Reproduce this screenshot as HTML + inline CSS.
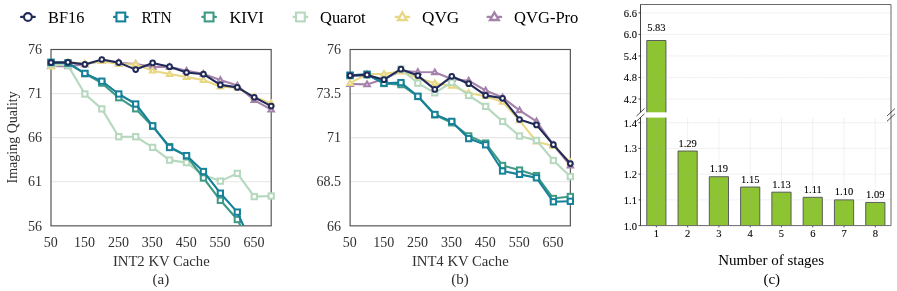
<!DOCTYPE html>
<html><head><meta charset="utf-8"><title>chart</title>
<style>html,body{margin:0;padding:0;background:#fff;}body{width:897px;height:291px;overflow:hidden;font-family:"Liberation Serif",serif;}svg{display:block;will-change:transform}</style>
</head><body>
<svg width="897" height="291" viewBox="0 0 897 291" font-family="Liberation Serif, serif">
<rect width="897" height="291" fill="#fff"/>
<line x1="21.2" x2="34.6" y1="16.9" y2="16.9" stroke="#212a58" stroke-width="2.4" stroke-linecap="round"/>
<circle cx="27.90" cy="17.00" r="3.90" fill="#fff" stroke="#212a58" stroke-width="2.1"/>
<text x="48.1" y="22.9" font-size="16.6" text-anchor="start" fill="#000" textLength="36.2" lengthAdjust="spacingAndGlyphs">BF16</text>
<line x1="114.14999999999999" x2="127.55" y1="16.9" y2="16.9" stroke="#17819a" stroke-width="2.4" stroke-linecap="round"/>
<rect x="116.45" y="12.60" width="8.80" height="8.80" fill="#fff" stroke="#17819a" stroke-width="2.1"/>
<text x="141.5" y="22.9" font-size="16.6" text-anchor="start" fill="#000" textLength="30.2" lengthAdjust="spacingAndGlyphs">RTN</text>
<line x1="202.4" x2="215.79999999999998" y1="16.9" y2="16.9" stroke="#3f9a85" stroke-width="2.4" stroke-linecap="round"/>
<rect x="204.70" y="12.60" width="8.80" height="8.80" fill="#fff" stroke="#3f9a85" stroke-width="2.1"/>
<text x="229.4" y="22.9" font-size="16.6" text-anchor="start" fill="#000" textLength="34.4" lengthAdjust="spacingAndGlyphs">KIVI</text>
<line x1="293.7" x2="307.09999999999997" y1="16.9" y2="16.9" stroke="#b5d8be" stroke-width="2.4" stroke-linecap="round"/>
<rect x="296.00" y="12.60" width="8.80" height="8.80" fill="#fff" stroke="#b5d8be" stroke-width="2.1"/>
<text x="320.0" y="22.9" font-size="16.6" text-anchor="start" fill="#000" textLength="45.7" lengthAdjust="spacingAndGlyphs">Quarot</text>
<line x1="395.7" x2="409.09999999999997" y1="16.9" y2="16.9" stroke="#e8d785" stroke-width="2.4" stroke-linecap="round"/>
<path d="M402.40 12.50L406.73 20.00L398.07 20.00Z" fill="#fff" stroke="#e8d785" stroke-width="2.4" stroke-linejoin="miter"/>
<text x="422.0" y="22.9" font-size="16.6" text-anchor="start" fill="#000" textLength="37.2" lengthAdjust="spacingAndGlyphs">QVG</text>
<line x1="487.7" x2="501.09999999999997" y1="16.9" y2="16.9" stroke="#a582ab" stroke-width="2.4" stroke-linecap="round"/>
<path d="M494.40 12.50L498.73 20.00L490.07 20.00Z" fill="#fff" stroke="#a582ab" stroke-width="2.4" stroke-linejoin="miter"/>
<text x="514.0" y="22.9" font-size="16.6" text-anchor="start" fill="#000" textLength="64.4" lengthAdjust="spacingAndGlyphs">QVG-Pro</text>
<clipPath id="ca"><rect x="45.0" y="49.5" width="232.2" height="176.35"/></clipPath>
<line x1="51.0" x2="271.2" y1="93.59" y2="93.59" stroke="#e6e6e6" stroke-width="1.2"/>
<line x1="51.0" x2="271.2" y1="137.68" y2="137.68" stroke="#e6e6e6" stroke-width="1.2"/>
<line x1="51.0" x2="271.2" y1="181.76" y2="181.76" stroke="#e6e6e6" stroke-width="1.2"/>
<rect x="51.0" y="49.5" width="220.2" height="176.35" fill="none" stroke="#505050" stroke-width="1.15"/>
<g clip-path="url(#ca)">
<polyline points="51.00,66.00 67.94,66.40 84.88,64.30 101.82,61.00 118.75,62.70 135.69,64.00 152.63,66.90 169.57,66.80 186.51,70.80 203.45,73.90 220.38,80.00 237.32,85.60 254.26,100.10 271.20,109.60" fill="none" stroke="#a582ab" stroke-width="2.1" stroke-linejoin="round" stroke-linecap="round"/>
<path d="M51.00 63.20L53.68 67.85L48.32 67.85Z" fill="#fff" stroke="#a582ab" stroke-width="2.1" stroke-linejoin="miter"/>
<path d="M67.94 63.60L70.62 68.25L65.25 68.25Z" fill="#fff" stroke="#a582ab" stroke-width="2.1" stroke-linejoin="miter"/>
<path d="M84.88 61.50L87.56 66.15L82.19 66.15Z" fill="#fff" stroke="#a582ab" stroke-width="2.1" stroke-linejoin="miter"/>
<path d="M101.82 58.20L104.50 62.85L99.13 62.85Z" fill="#fff" stroke="#a582ab" stroke-width="2.1" stroke-linejoin="miter"/>
<path d="M118.75 59.90L121.44 64.55L116.07 64.55Z" fill="#fff" stroke="#a582ab" stroke-width="2.1" stroke-linejoin="miter"/>
<path d="M135.69 61.20L138.38 65.85L133.01 65.85Z" fill="#fff" stroke="#a582ab" stroke-width="2.1" stroke-linejoin="miter"/>
<path d="M152.63 64.10L155.32 68.75L149.95 68.75Z" fill="#fff" stroke="#a582ab" stroke-width="2.1" stroke-linejoin="miter"/>
<path d="M169.57 64.00L172.25 68.65L166.88 68.65Z" fill="#fff" stroke="#a582ab" stroke-width="2.1" stroke-linejoin="miter"/>
<path d="M186.51 68.00L189.19 72.65L183.82 72.65Z" fill="#fff" stroke="#a582ab" stroke-width="2.1" stroke-linejoin="miter"/>
<path d="M203.45 71.10L206.13 75.75L200.76 75.75Z" fill="#fff" stroke="#a582ab" stroke-width="2.1" stroke-linejoin="miter"/>
<path d="M220.38 77.20L223.07 81.85L217.70 81.85Z" fill="#fff" stroke="#a582ab" stroke-width="2.1" stroke-linejoin="miter"/>
<path d="M237.32 82.80L240.01 87.45L234.64 87.45Z" fill="#fff" stroke="#a582ab" stroke-width="2.1" stroke-linejoin="miter"/>
<path d="M254.26 97.30L256.95 101.95L251.58 101.95Z" fill="#fff" stroke="#a582ab" stroke-width="2.1" stroke-linejoin="miter"/>
<path d="M271.20 106.80L273.88 111.45L268.52 111.45Z" fill="#fff" stroke="#a582ab" stroke-width="2.1" stroke-linejoin="miter"/>
<polyline points="51.00,66.70 67.94,62.20 84.88,63.60 101.82,61.20 118.75,64.00 135.69,64.20 152.63,70.70 169.57,74.00 186.51,77.00 203.45,80.10 220.38,86.70 237.32,87.80 254.26,97.00 271.20,103.40" fill="none" stroke="#e8d785" stroke-width="2.1" stroke-linejoin="round" stroke-linecap="round"/>
<path d="M51.00 63.90L53.68 68.55L48.32 68.55Z" fill="#fff" stroke="#e8d785" stroke-width="2.1" stroke-linejoin="miter"/>
<path d="M67.94 59.40L70.62 64.05L65.25 64.05Z" fill="#fff" stroke="#e8d785" stroke-width="2.1" stroke-linejoin="miter"/>
<path d="M84.88 60.80L87.56 65.45L82.19 65.45Z" fill="#fff" stroke="#e8d785" stroke-width="2.1" stroke-linejoin="miter"/>
<path d="M101.82 58.40L104.50 63.05L99.13 63.05Z" fill="#fff" stroke="#e8d785" stroke-width="2.1" stroke-linejoin="miter"/>
<path d="M118.75 61.20L121.44 65.85L116.07 65.85Z" fill="#fff" stroke="#e8d785" stroke-width="2.1" stroke-linejoin="miter"/>
<path d="M135.69 61.40L138.38 66.05L133.01 66.05Z" fill="#fff" stroke="#e8d785" stroke-width="2.1" stroke-linejoin="miter"/>
<path d="M152.63 67.90L155.32 72.55L149.95 72.55Z" fill="#fff" stroke="#e8d785" stroke-width="2.1" stroke-linejoin="miter"/>
<path d="M169.57 71.20L172.25 75.85L166.88 75.85Z" fill="#fff" stroke="#e8d785" stroke-width="2.1" stroke-linejoin="miter"/>
<path d="M186.51 74.20L189.19 78.85L183.82 78.85Z" fill="#fff" stroke="#e8d785" stroke-width="2.1" stroke-linejoin="miter"/>
<path d="M203.45 77.30L206.13 81.95L200.76 81.95Z" fill="#fff" stroke="#e8d785" stroke-width="2.1" stroke-linejoin="miter"/>
<path d="M220.38 83.90L223.07 88.55L217.70 88.55Z" fill="#fff" stroke="#e8d785" stroke-width="2.1" stroke-linejoin="miter"/>
<path d="M237.32 85.00L240.01 89.65L234.64 89.65Z" fill="#fff" stroke="#e8d785" stroke-width="2.1" stroke-linejoin="miter"/>
<path d="M254.26 94.20L256.95 98.85L251.58 98.85Z" fill="#fff" stroke="#e8d785" stroke-width="2.1" stroke-linejoin="miter"/>
<path d="M271.20 100.60L273.88 105.25L268.52 105.25Z" fill="#fff" stroke="#e8d785" stroke-width="2.1" stroke-linejoin="miter"/>
<polyline points="51.00,64.00 67.94,65.40 84.88,94.00 101.82,108.90 118.75,136.70 135.69,136.70 152.63,147.40 169.57,160.10 186.51,162.60 203.45,175.00 220.38,181.10 237.32,173.40 254.26,196.60 271.20,196.00" fill="none" stroke="#b5d8be" stroke-width="2.1" stroke-linejoin="round" stroke-linecap="round"/>
<rect x="48.35" y="61.35" width="5.30" height="5.30" fill="#fff" stroke="#b5d8be" stroke-width="2.0"/>
<rect x="65.29" y="62.75" width="5.30" height="5.30" fill="#fff" stroke="#b5d8be" stroke-width="2.0"/>
<rect x="82.23" y="91.35" width="5.30" height="5.30" fill="#fff" stroke="#b5d8be" stroke-width="2.0"/>
<rect x="99.17" y="106.25" width="5.30" height="5.30" fill="#fff" stroke="#b5d8be" stroke-width="2.0"/>
<rect x="116.10" y="134.05" width="5.30" height="5.30" fill="#fff" stroke="#b5d8be" stroke-width="2.0"/>
<rect x="133.04" y="134.05" width="5.30" height="5.30" fill="#fff" stroke="#b5d8be" stroke-width="2.0"/>
<rect x="149.98" y="144.75" width="5.30" height="5.30" fill="#fff" stroke="#b5d8be" stroke-width="2.0"/>
<rect x="166.92" y="157.45" width="5.30" height="5.30" fill="#fff" stroke="#b5d8be" stroke-width="2.0"/>
<rect x="183.86" y="159.95" width="5.30" height="5.30" fill="#fff" stroke="#b5d8be" stroke-width="2.0"/>
<rect x="200.80" y="172.35" width="5.30" height="5.30" fill="#fff" stroke="#b5d8be" stroke-width="2.0"/>
<rect x="217.73" y="178.45" width="5.30" height="5.30" fill="#fff" stroke="#b5d8be" stroke-width="2.0"/>
<rect x="234.67" y="170.75" width="5.30" height="5.30" fill="#fff" stroke="#b5d8be" stroke-width="2.0"/>
<rect x="251.61" y="193.95" width="5.30" height="5.30" fill="#fff" stroke="#b5d8be" stroke-width="2.0"/>
<rect x="268.55" y="193.35" width="5.30" height="5.30" fill="#fff" stroke="#b5d8be" stroke-width="2.0"/>
<polyline points="51.00,62.50 67.94,63.30 84.88,73.70 101.82,83.10 118.75,97.70 135.69,108.80 152.63,126.40 169.57,146.60 186.51,156.00 203.45,178.00 220.38,200.30 237.32,219.50 254.26,253.00 271.20,290.00" fill="none" stroke="#3f9a85" stroke-width="2.1" stroke-linejoin="round" stroke-linecap="round"/>
<rect x="48.35" y="59.85" width="5.30" height="5.30" fill="#fff" stroke="#3f9a85" stroke-width="2.0"/>
<rect x="65.29" y="60.65" width="5.30" height="5.30" fill="#fff" stroke="#3f9a85" stroke-width="2.0"/>
<rect x="82.23" y="71.05" width="5.30" height="5.30" fill="#fff" stroke="#3f9a85" stroke-width="2.0"/>
<rect x="99.17" y="80.45" width="5.30" height="5.30" fill="#fff" stroke="#3f9a85" stroke-width="2.0"/>
<rect x="116.10" y="95.05" width="5.30" height="5.30" fill="#fff" stroke="#3f9a85" stroke-width="2.0"/>
<rect x="133.04" y="106.15" width="5.30" height="5.30" fill="#fff" stroke="#3f9a85" stroke-width="2.0"/>
<rect x="149.98" y="123.75" width="5.30" height="5.30" fill="#fff" stroke="#3f9a85" stroke-width="2.0"/>
<rect x="166.92" y="143.95" width="5.30" height="5.30" fill="#fff" stroke="#3f9a85" stroke-width="2.0"/>
<rect x="183.86" y="153.35" width="5.30" height="5.30" fill="#fff" stroke="#3f9a85" stroke-width="2.0"/>
<rect x="200.80" y="175.35" width="5.30" height="5.30" fill="#fff" stroke="#3f9a85" stroke-width="2.0"/>
<rect x="217.73" y="197.65" width="5.30" height="5.30" fill="#fff" stroke="#3f9a85" stroke-width="2.0"/>
<rect x="234.67" y="216.85" width="5.30" height="5.30" fill="#fff" stroke="#3f9a85" stroke-width="2.0"/>
<rect x="251.61" y="250.35" width="5.30" height="5.30" fill="#fff" stroke="#3f9a85" stroke-width="2.0"/>
<rect x="268.55" y="287.35" width="5.30" height="5.30" fill="#fff" stroke="#3f9a85" stroke-width="2.0"/>
<polyline points="51.00,62.30 67.94,62.90 84.88,73.40 101.82,81.20 118.75,94.00 135.69,104.00 152.63,125.80 169.57,147.50 186.51,155.60 203.45,171.50 220.38,193.20 237.32,212.10 254.26,249.70 271.20,285.00" fill="none" stroke="#17819a" stroke-width="2.1" stroke-linejoin="round" stroke-linecap="round"/>
<rect x="48.35" y="59.65" width="5.30" height="5.30" fill="#fff" stroke="#17819a" stroke-width="2.0"/>
<rect x="65.29" y="60.25" width="5.30" height="5.30" fill="#fff" stroke="#17819a" stroke-width="2.0"/>
<rect x="82.23" y="70.75" width="5.30" height="5.30" fill="#fff" stroke="#17819a" stroke-width="2.0"/>
<rect x="99.17" y="78.55" width="5.30" height="5.30" fill="#fff" stroke="#17819a" stroke-width="2.0"/>
<rect x="116.10" y="91.35" width="5.30" height="5.30" fill="#fff" stroke="#17819a" stroke-width="2.0"/>
<rect x="133.04" y="101.35" width="5.30" height="5.30" fill="#fff" stroke="#17819a" stroke-width="2.0"/>
<rect x="149.98" y="123.15" width="5.30" height="5.30" fill="#fff" stroke="#17819a" stroke-width="2.0"/>
<rect x="166.92" y="144.85" width="5.30" height="5.30" fill="#fff" stroke="#17819a" stroke-width="2.0"/>
<rect x="183.86" y="152.95" width="5.30" height="5.30" fill="#fff" stroke="#17819a" stroke-width="2.0"/>
<rect x="200.80" y="168.85" width="5.30" height="5.30" fill="#fff" stroke="#17819a" stroke-width="2.0"/>
<rect x="217.73" y="190.55" width="5.30" height="5.30" fill="#fff" stroke="#17819a" stroke-width="2.0"/>
<rect x="234.67" y="209.45" width="5.30" height="5.30" fill="#fff" stroke="#17819a" stroke-width="2.0"/>
<rect x="251.61" y="247.05" width="5.30" height="5.30" fill="#fff" stroke="#17819a" stroke-width="2.0"/>
<rect x="268.55" y="282.35" width="5.30" height="5.30" fill="#fff" stroke="#17819a" stroke-width="2.0"/>
<polyline points="51.00,62.60 67.94,62.30 84.88,64.40 101.82,59.50 118.75,62.60 135.69,69.60 152.63,62.90 169.57,66.70 186.51,72.50 203.45,74.20 220.38,84.90 237.32,87.40 254.26,97.30 271.20,106.10" fill="none" stroke="#212a58" stroke-width="2.1" stroke-linejoin="round" stroke-linecap="round"/>
<circle cx="51.00" cy="62.60" r="2.35" fill="#fff" stroke="#212a58" stroke-width="2.0"/>
<circle cx="67.94" cy="62.30" r="2.35" fill="#fff" stroke="#212a58" stroke-width="2.0"/>
<circle cx="84.88" cy="64.40" r="2.35" fill="#fff" stroke="#212a58" stroke-width="2.0"/>
<circle cx="101.82" cy="59.50" r="2.35" fill="#fff" stroke="#212a58" stroke-width="2.0"/>
<circle cx="118.75" cy="62.60" r="2.35" fill="#fff" stroke="#212a58" stroke-width="2.0"/>
<circle cx="135.69" cy="69.60" r="2.35" fill="#fff" stroke="#212a58" stroke-width="2.0"/>
<circle cx="152.63" cy="62.90" r="2.35" fill="#fff" stroke="#212a58" stroke-width="2.0"/>
<circle cx="169.57" cy="66.70" r="2.35" fill="#fff" stroke="#212a58" stroke-width="2.0"/>
<circle cx="186.51" cy="72.50" r="2.35" fill="#fff" stroke="#212a58" stroke-width="2.0"/>
<circle cx="203.45" cy="74.20" r="2.35" fill="#fff" stroke="#212a58" stroke-width="2.0"/>
<circle cx="220.38" cy="84.90" r="2.35" fill="#fff" stroke="#212a58" stroke-width="2.0"/>
<circle cx="237.32" cy="87.40" r="2.35" fill="#fff" stroke="#212a58" stroke-width="2.0"/>
<circle cx="254.26" cy="97.30" r="2.35" fill="#fff" stroke="#212a58" stroke-width="2.0"/>
<circle cx="271.20" cy="106.10" r="2.35" fill="#fff" stroke="#212a58" stroke-width="2.0"/>
</g>
<clipPath id="cb"><rect x="344.1" y="49.5" width="232.25" height="176.35"/></clipPath>
<line x1="350.1" x2="570.35" y1="93.59" y2="93.59" stroke="#e6e6e6" stroke-width="1.2"/>
<line x1="350.1" x2="570.35" y1="137.68" y2="137.68" stroke="#e6e6e6" stroke-width="1.2"/>
<line x1="350.1" x2="570.35" y1="181.76" y2="181.76" stroke="#e6e6e6" stroke-width="1.2"/>
<rect x="350.1" y="49.5" width="220.25" height="176.35" fill="none" stroke="#505050" stroke-width="1.15"/>
<g clip-path="url(#cb)">
<polyline points="350.10,84.00 367.04,84.40 383.98,79.00 400.93,70.80 417.87,72.00 434.81,72.30 451.75,79.00 468.70,80.70 485.64,90.50 502.58,97.50 519.52,110.30 536.47,121.30 553.41,145.00 570.35,165.70" fill="none" stroke="#a582ab" stroke-width="2.1" stroke-linejoin="round" stroke-linecap="round"/>
<path d="M350.10 81.20L352.78 85.85L347.42 85.85Z" fill="#fff" stroke="#a582ab" stroke-width="2.1" stroke-linejoin="miter"/>
<path d="M367.04 81.60L369.73 86.25L364.36 86.25Z" fill="#fff" stroke="#a582ab" stroke-width="2.1" stroke-linejoin="miter"/>
<path d="M383.98 76.20L386.67 80.85L381.30 80.85Z" fill="#fff" stroke="#a582ab" stroke-width="2.1" stroke-linejoin="miter"/>
<path d="M400.93 68.00L403.61 72.65L398.24 72.65Z" fill="#fff" stroke="#a582ab" stroke-width="2.1" stroke-linejoin="miter"/>
<path d="M417.87 69.20L420.55 73.85L415.18 73.85Z" fill="#fff" stroke="#a582ab" stroke-width="2.1" stroke-linejoin="miter"/>
<path d="M434.81 69.50L437.50 74.15L432.13 74.15Z" fill="#fff" stroke="#a582ab" stroke-width="2.1" stroke-linejoin="miter"/>
<path d="M451.75 76.20L454.44 80.85L449.07 80.85Z" fill="#fff" stroke="#a582ab" stroke-width="2.1" stroke-linejoin="miter"/>
<path d="M468.70 77.90L471.38 82.55L466.01 82.55Z" fill="#fff" stroke="#a582ab" stroke-width="2.1" stroke-linejoin="miter"/>
<path d="M485.64 87.70L488.32 92.35L482.95 92.35Z" fill="#fff" stroke="#a582ab" stroke-width="2.1" stroke-linejoin="miter"/>
<path d="M502.58 94.70L505.27 99.35L499.90 99.35Z" fill="#fff" stroke="#a582ab" stroke-width="2.1" stroke-linejoin="miter"/>
<path d="M519.52 107.50L522.21 112.15L516.84 112.15Z" fill="#fff" stroke="#a582ab" stroke-width="2.1" stroke-linejoin="miter"/>
<path d="M536.47 118.50L539.15 123.15L533.78 123.15Z" fill="#fff" stroke="#a582ab" stroke-width="2.1" stroke-linejoin="miter"/>
<path d="M553.41 142.20L556.09 146.85L550.72 146.85Z" fill="#fff" stroke="#a582ab" stroke-width="2.1" stroke-linejoin="miter"/>
<path d="M570.35 162.90L573.03 167.55L567.67 167.55Z" fill="#fff" stroke="#a582ab" stroke-width="2.1" stroke-linejoin="miter"/>
<polyline points="350.10,83.20 367.04,74.00 383.98,73.90 400.93,71.50 417.87,78.00 434.81,83.20 451.75,85.90 468.70,93.00 485.64,96.20 502.58,101.90 519.52,120.30 536.47,141.70 553.41,146.00 570.35,162.30" fill="none" stroke="#e8d785" stroke-width="2.1" stroke-linejoin="round" stroke-linecap="round"/>
<path d="M350.10 80.40L352.78 85.05L347.42 85.05Z" fill="#fff" stroke="#e8d785" stroke-width="2.1" stroke-linejoin="miter"/>
<path d="M367.04 71.20L369.73 75.85L364.36 75.85Z" fill="#fff" stroke="#e8d785" stroke-width="2.1" stroke-linejoin="miter"/>
<path d="M383.98 71.10L386.67 75.75L381.30 75.75Z" fill="#fff" stroke="#e8d785" stroke-width="2.1" stroke-linejoin="miter"/>
<path d="M400.93 68.70L403.61 73.35L398.24 73.35Z" fill="#fff" stroke="#e8d785" stroke-width="2.1" stroke-linejoin="miter"/>
<path d="M417.87 75.20L420.55 79.85L415.18 79.85Z" fill="#fff" stroke="#e8d785" stroke-width="2.1" stroke-linejoin="miter"/>
<path d="M434.81 80.40L437.50 85.05L432.13 85.05Z" fill="#fff" stroke="#e8d785" stroke-width="2.1" stroke-linejoin="miter"/>
<path d="M451.75 83.10L454.44 87.75L449.07 87.75Z" fill="#fff" stroke="#e8d785" stroke-width="2.1" stroke-linejoin="miter"/>
<path d="M468.70 90.20L471.38 94.85L466.01 94.85Z" fill="#fff" stroke="#e8d785" stroke-width="2.1" stroke-linejoin="miter"/>
<path d="M485.64 93.40L488.32 98.05L482.95 98.05Z" fill="#fff" stroke="#e8d785" stroke-width="2.1" stroke-linejoin="miter"/>
<path d="M502.58 99.10L505.27 103.75L499.90 103.75Z" fill="#fff" stroke="#e8d785" stroke-width="2.1" stroke-linejoin="miter"/>
<path d="M519.52 117.50L522.21 122.15L516.84 122.15Z" fill="#fff" stroke="#e8d785" stroke-width="2.1" stroke-linejoin="miter"/>
<path d="M536.47 138.90L539.15 143.55L533.78 143.55Z" fill="#fff" stroke="#e8d785" stroke-width="2.1" stroke-linejoin="miter"/>
<path d="M553.41 143.20L556.09 147.85L550.72 147.85Z" fill="#fff" stroke="#e8d785" stroke-width="2.1" stroke-linejoin="miter"/>
<path d="M570.35 159.50L573.03 164.15L567.67 164.15Z" fill="#fff" stroke="#e8d785" stroke-width="2.1" stroke-linejoin="miter"/>
<polyline points="350.10,76.00 367.04,75.00 383.98,80.00 400.93,69.00 417.87,83.20 434.81,92.80 451.75,82.40 468.70,95.50 485.64,106.40 502.58,121.50 519.52,136.00 536.47,140.40 553.41,160.50 570.35,176.60" fill="none" stroke="#b5d8be" stroke-width="2.1" stroke-linejoin="round" stroke-linecap="round"/>
<rect x="347.45" y="73.35" width="5.30" height="5.30" fill="#fff" stroke="#b5d8be" stroke-width="2.0"/>
<rect x="364.39" y="72.35" width="5.30" height="5.30" fill="#fff" stroke="#b5d8be" stroke-width="2.0"/>
<rect x="381.33" y="77.35" width="5.30" height="5.30" fill="#fff" stroke="#b5d8be" stroke-width="2.0"/>
<rect x="398.28" y="66.35" width="5.30" height="5.30" fill="#fff" stroke="#b5d8be" stroke-width="2.0"/>
<rect x="415.22" y="80.55" width="5.30" height="5.30" fill="#fff" stroke="#b5d8be" stroke-width="2.0"/>
<rect x="432.16" y="90.15" width="5.30" height="5.30" fill="#fff" stroke="#b5d8be" stroke-width="2.0"/>
<rect x="449.10" y="79.75" width="5.30" height="5.30" fill="#fff" stroke="#b5d8be" stroke-width="2.0"/>
<rect x="466.05" y="92.85" width="5.30" height="5.30" fill="#fff" stroke="#b5d8be" stroke-width="2.0"/>
<rect x="482.99" y="103.75" width="5.30" height="5.30" fill="#fff" stroke="#b5d8be" stroke-width="2.0"/>
<rect x="499.93" y="118.85" width="5.30" height="5.30" fill="#fff" stroke="#b5d8be" stroke-width="2.0"/>
<rect x="516.87" y="133.35" width="5.30" height="5.30" fill="#fff" stroke="#b5d8be" stroke-width="2.0"/>
<rect x="533.82" y="137.75" width="5.30" height="5.30" fill="#fff" stroke="#b5d8be" stroke-width="2.0"/>
<rect x="550.76" y="157.85" width="5.30" height="5.30" fill="#fff" stroke="#b5d8be" stroke-width="2.0"/>
<rect x="567.70" y="173.95" width="5.30" height="5.30" fill="#fff" stroke="#b5d8be" stroke-width="2.0"/>
<polyline points="350.10,75.40 367.04,74.60 383.98,83.50 400.93,84.60 417.87,96.50 434.81,114.80 451.75,122.80 468.70,135.90 485.64,143.10 502.58,165.50 519.52,170.10 536.47,175.60 553.41,198.50 570.35,196.50" fill="none" stroke="#3f9a85" stroke-width="2.1" stroke-linejoin="round" stroke-linecap="round"/>
<rect x="347.45" y="72.75" width="5.30" height="5.30" fill="#fff" stroke="#3f9a85" stroke-width="2.0"/>
<rect x="364.39" y="71.95" width="5.30" height="5.30" fill="#fff" stroke="#3f9a85" stroke-width="2.0"/>
<rect x="381.33" y="80.85" width="5.30" height="5.30" fill="#fff" stroke="#3f9a85" stroke-width="2.0"/>
<rect x="398.28" y="81.95" width="5.30" height="5.30" fill="#fff" stroke="#3f9a85" stroke-width="2.0"/>
<rect x="415.22" y="93.85" width="5.30" height="5.30" fill="#fff" stroke="#3f9a85" stroke-width="2.0"/>
<rect x="432.16" y="112.15" width="5.30" height="5.30" fill="#fff" stroke="#3f9a85" stroke-width="2.0"/>
<rect x="449.10" y="120.15" width="5.30" height="5.30" fill="#fff" stroke="#3f9a85" stroke-width="2.0"/>
<rect x="466.05" y="133.25" width="5.30" height="5.30" fill="#fff" stroke="#3f9a85" stroke-width="2.0"/>
<rect x="482.99" y="140.45" width="5.30" height="5.30" fill="#fff" stroke="#3f9a85" stroke-width="2.0"/>
<rect x="499.93" y="162.85" width="5.30" height="5.30" fill="#fff" stroke="#3f9a85" stroke-width="2.0"/>
<rect x="516.87" y="167.45" width="5.30" height="5.30" fill="#fff" stroke="#3f9a85" stroke-width="2.0"/>
<rect x="533.82" y="172.95" width="5.30" height="5.30" fill="#fff" stroke="#3f9a85" stroke-width="2.0"/>
<rect x="550.76" y="195.85" width="5.30" height="5.30" fill="#fff" stroke="#3f9a85" stroke-width="2.0"/>
<rect x="567.70" y="193.85" width="5.30" height="5.30" fill="#fff" stroke="#3f9a85" stroke-width="2.0"/>
<polyline points="350.10,75.20 367.04,74.20 383.98,83.20 400.93,82.60 417.87,96.30 434.81,114.50 451.75,121.40 468.70,138.60 485.64,144.80 502.58,171.00 519.52,174.40 536.47,177.80 553.41,201.80 570.35,201.30" fill="none" stroke="#17819a" stroke-width="2.1" stroke-linejoin="round" stroke-linecap="round"/>
<rect x="347.45" y="72.55" width="5.30" height="5.30" fill="#fff" stroke="#17819a" stroke-width="2.0"/>
<rect x="364.39" y="71.55" width="5.30" height="5.30" fill="#fff" stroke="#17819a" stroke-width="2.0"/>
<rect x="381.33" y="80.55" width="5.30" height="5.30" fill="#fff" stroke="#17819a" stroke-width="2.0"/>
<rect x="398.28" y="79.95" width="5.30" height="5.30" fill="#fff" stroke="#17819a" stroke-width="2.0"/>
<rect x="415.22" y="93.65" width="5.30" height="5.30" fill="#fff" stroke="#17819a" stroke-width="2.0"/>
<rect x="432.16" y="111.85" width="5.30" height="5.30" fill="#fff" stroke="#17819a" stroke-width="2.0"/>
<rect x="449.10" y="118.75" width="5.30" height="5.30" fill="#fff" stroke="#17819a" stroke-width="2.0"/>
<rect x="466.05" y="135.95" width="5.30" height="5.30" fill="#fff" stroke="#17819a" stroke-width="2.0"/>
<rect x="482.99" y="142.15" width="5.30" height="5.30" fill="#fff" stroke="#17819a" stroke-width="2.0"/>
<rect x="499.93" y="168.35" width="5.30" height="5.30" fill="#fff" stroke="#17819a" stroke-width="2.0"/>
<rect x="516.87" y="171.75" width="5.30" height="5.30" fill="#fff" stroke="#17819a" stroke-width="2.0"/>
<rect x="533.82" y="175.15" width="5.30" height="5.30" fill="#fff" stroke="#17819a" stroke-width="2.0"/>
<rect x="550.76" y="199.15" width="5.30" height="5.30" fill="#fff" stroke="#17819a" stroke-width="2.0"/>
<rect x="567.70" y="198.65" width="5.30" height="5.30" fill="#fff" stroke="#17819a" stroke-width="2.0"/>
<polyline points="350.10,75.60 367.04,74.90 383.98,79.70 400.93,69.20 417.87,75.60 434.81,89.40 451.75,76.30 468.70,83.70 485.64,95.40 502.58,98.30 519.52,119.50 536.47,124.90 553.41,144.70 570.35,163.60" fill="none" stroke="#212a58" stroke-width="2.1" stroke-linejoin="round" stroke-linecap="round"/>
<circle cx="350.10" cy="75.60" r="2.35" fill="#fff" stroke="#212a58" stroke-width="2.0"/>
<circle cx="367.04" cy="74.90" r="2.35" fill="#fff" stroke="#212a58" stroke-width="2.0"/>
<circle cx="383.98" cy="79.70" r="2.35" fill="#fff" stroke="#212a58" stroke-width="2.0"/>
<circle cx="400.93" cy="69.20" r="2.35" fill="#fff" stroke="#212a58" stroke-width="2.0"/>
<circle cx="417.87" cy="75.60" r="2.35" fill="#fff" stroke="#212a58" stroke-width="2.0"/>
<circle cx="434.81" cy="89.40" r="2.35" fill="#fff" stroke="#212a58" stroke-width="2.0"/>
<circle cx="451.75" cy="76.30" r="2.35" fill="#fff" stroke="#212a58" stroke-width="2.0"/>
<circle cx="468.70" cy="83.70" r="2.35" fill="#fff" stroke="#212a58" stroke-width="2.0"/>
<circle cx="485.64" cy="95.40" r="2.35" fill="#fff" stroke="#212a58" stroke-width="2.0"/>
<circle cx="502.58" cy="98.30" r="2.35" fill="#fff" stroke="#212a58" stroke-width="2.0"/>
<circle cx="519.52" cy="119.50" r="2.35" fill="#fff" stroke="#212a58" stroke-width="2.0"/>
<circle cx="536.47" cy="124.90" r="2.35" fill="#fff" stroke="#212a58" stroke-width="2.0"/>
<circle cx="553.41" cy="144.70" r="2.35" fill="#fff" stroke="#212a58" stroke-width="2.0"/>
<circle cx="570.35" cy="163.60" r="2.35" fill="#fff" stroke="#212a58" stroke-width="2.0"/>
</g>
<text x="42" y="54.2" font-size="14" text-anchor="end" fill="#303030" >76</text>
<text x="42" y="98.28750000000001" font-size="14" text-anchor="end" fill="#303030" >71</text>
<text x="42" y="142.375" font-size="14" text-anchor="end" fill="#303030" >66</text>
<text x="42" y="186.46249999999998" font-size="14" text-anchor="end" fill="#303030" >61</text>
<text x="42" y="230.54999999999998" font-size="14" text-anchor="end" fill="#303030" >56</text>
<text x="341" y="54.2" font-size="14" text-anchor="end" fill="#303030" >76</text>
<text x="341" y="98.28750000000001" font-size="14" text-anchor="end" fill="#303030" >73.5</text>
<text x="341" y="142.375" font-size="14" text-anchor="end" fill="#303030" >71</text>
<text x="341" y="186.46249999999998" font-size="14" text-anchor="end" fill="#303030" >68.5</text>
<text x="341" y="230.54999999999998" font-size="14" text-anchor="end" fill="#303030" >66</text>
<text x="50.7" y="246.7" font-size="14" text-anchor="middle" fill="#303030" >50</text>
<text x="84.58" y="246.7" font-size="14" text-anchor="middle" fill="#303030" >150</text>
<text x="118.45" y="246.7" font-size="14" text-anchor="middle" fill="#303030" >250</text>
<text x="152.33" y="246.7" font-size="14" text-anchor="middle" fill="#303030" >350</text>
<text x="186.21" y="246.7" font-size="14" text-anchor="middle" fill="#303030" >450</text>
<text x="220.08" y="246.7" font-size="14" text-anchor="middle" fill="#303030" >550</text>
<text x="253.96" y="246.7" font-size="14" text-anchor="middle" fill="#303030" >650</text>
<text x="349.8" y="246.7" font-size="14" text-anchor="middle" fill="#303030" >50</text>
<text x="383.68" y="246.7" font-size="14" text-anchor="middle" fill="#303030" >150</text>
<text x="417.57" y="246.7" font-size="14" text-anchor="middle" fill="#303030" >250</text>
<text x="451.45" y="246.7" font-size="14" text-anchor="middle" fill="#303030" >350</text>
<text x="485.34" y="246.7" font-size="14" text-anchor="middle" fill="#303030" >450</text>
<text x="519.22" y="246.7" font-size="14" text-anchor="middle" fill="#303030" >550</text>
<text x="553.11" y="246.7" font-size="14" text-anchor="middle" fill="#303030" >650</text>
<text x="161.3" y="265.9" font-size="14.7" text-anchor="middle" fill="#303030" >INT2 KV Cache</text>
<text x="460.3" y="265.9" font-size="14.7" text-anchor="middle" fill="#303030" >INT4 KV Cache</text>
<text x="160.9" y="283.7" font-size="15" text-anchor="middle" fill="#303030" >(a)</text>
<text x="460.0" y="283.7" font-size="15" text-anchor="middle" fill="#303030" >(b)</text>
<text transform="translate(16.7 137.4) rotate(-90)" font-size="14" text-anchor="middle" fill="#303030">Imaging Quality</text>
<rect x="646.75" y="40.50" width="19.2" height="71.80" fill="#8cc531"/>
<path d="M646.75 112.3V40.50H665.95V112.3" fill="none" stroke="#504e58" stroke-width="0.9"/>
<rect x="646.75" y="117.6" width="19.2" height="108.00" fill="#8cc531"/>
<path d="M646.75 117.6V225.6M665.95 117.6V225.6" fill="none" stroke="#504e58" stroke-width="0.9"/>
<text x="656.35" y="30.9" font-size="10.5" text-anchor="middle" fill="#000" stroke="#000" stroke-width="0.1">5.83</text>
<rect x="678.03" y="151.00" width="19.2" height="74.60" fill="#8cc531"/>
<path d="M678.03 225.6V151.00H697.23V225.6" fill="none" stroke="#504e58" stroke-width="0.9"/>
<text x="687.63" y="146.5" font-size="10.5" text-anchor="middle" fill="#000" stroke="#000" stroke-width="0.1">1.29</text>
<rect x="709.31" y="176.72" width="19.2" height="48.88" fill="#8cc531"/>
<path d="M709.31 225.6V176.72H728.51V225.6" fill="none" stroke="#504e58" stroke-width="0.9"/>
<text x="718.91" y="172.22" font-size="10.5" text-anchor="middle" fill="#000" stroke="#000" stroke-width="0.1">1.19</text>
<rect x="740.59" y="187.01" width="19.2" height="38.59" fill="#8cc531"/>
<path d="M740.59 225.6V187.01H759.79V225.6" fill="none" stroke="#504e58" stroke-width="0.9"/>
<text x="750.19" y="182.51" font-size="10.5" text-anchor="middle" fill="#000" stroke="#000" stroke-width="0.1">1.15</text>
<rect x="771.87" y="192.16" width="19.2" height="33.44" fill="#8cc531"/>
<path d="M771.87 225.6V192.16H791.07V225.6" fill="none" stroke="#504e58" stroke-width="0.9"/>
<text x="781.47" y="187.66" font-size="10.5" text-anchor="middle" fill="#000" stroke="#000" stroke-width="0.1">1.13</text>
<rect x="803.15" y="197.30" width="19.2" height="28.30" fill="#8cc531"/>
<path d="M803.15 225.6V197.30H822.35V225.6" fill="none" stroke="#504e58" stroke-width="0.9"/>
<text x="812.75" y="192.8" font-size="10.5" text-anchor="middle" fill="#000" stroke="#000" stroke-width="0.1">1.11</text>
<rect x="834.43" y="199.87" width="19.2" height="25.73" fill="#8cc531"/>
<path d="M834.43 225.6V199.87H853.63V225.6" fill="none" stroke="#504e58" stroke-width="0.9"/>
<text x="844.03" y="195.37" font-size="10.5" text-anchor="middle" fill="#000" stroke="#000" stroke-width="0.1">1.10</text>
<rect x="865.71" y="202.45" width="19.2" height="23.15" fill="#8cc531"/>
<path d="M865.71 225.6V202.45H884.91V225.6" fill="none" stroke="#504e58" stroke-width="0.9"/>
<text x="875.31" y="197.95" font-size="10.5" text-anchor="middle" fill="#000" stroke="#000" stroke-width="0.1">1.09</text>
<line x1="640.5" x2="891.0" y1="12.86" y2="12.86" stroke="#b0b0b0" stroke-opacity="0.36" stroke-width="0.8" stroke-dasharray="0.8 0.6"/>
<line x1="640.5" x2="891.0" y1="34.40" y2="34.40" stroke="#b0b0b0" stroke-opacity="0.36" stroke-width="0.8" stroke-dasharray="0.8 0.6"/>
<line x1="640.5" x2="891.0" y1="55.94" y2="55.94" stroke="#b0b0b0" stroke-opacity="0.36" stroke-width="0.8" stroke-dasharray="0.8 0.6"/>
<line x1="640.5" x2="891.0" y1="77.48" y2="77.48" stroke="#b0b0b0" stroke-opacity="0.36" stroke-width="0.8" stroke-dasharray="0.8 0.6"/>
<line x1="640.5" x2="891.0" y1="99.02" y2="99.02" stroke="#b0b0b0" stroke-opacity="0.36" stroke-width="0.8" stroke-dasharray="0.8 0.6"/>
<line x1="640.5" x2="891.0" y1="199.87" y2="199.87" stroke="#b0b0b0" stroke-opacity="0.36" stroke-width="0.8" stroke-dasharray="0.8 0.6"/>
<line x1="640.5" x2="891.0" y1="174.15" y2="174.15" stroke="#b0b0b0" stroke-opacity="0.36" stroke-width="0.8" stroke-dasharray="0.8 0.6"/>
<line x1="640.5" x2="891.0" y1="148.42" y2="148.42" stroke="#b0b0b0" stroke-opacity="0.36" stroke-width="0.8" stroke-dasharray="0.8 0.6"/>
<line x1="640.5" x2="891.0" y1="122.70" y2="122.70" stroke="#b0b0b0" stroke-opacity="0.36" stroke-width="0.8" stroke-dasharray="0.8 0.6"/>
<line x1="656.35" x2="656.35" y1="117.6" y2="225.6" stroke="#b0b0b0" stroke-opacity="0.36" stroke-width="0.8" stroke-dasharray="0.8 0.6"/>
<line x1="656.35" x2="656.35" y1="225.6" y2="227.4" stroke="#222" stroke-width="0.8"/>
<text x="656.35" y="237.3" font-size="10.5" text-anchor="middle" fill="#000" stroke="#000" stroke-width="0.1">1</text>
<line x1="687.63" x2="687.63" y1="117.6" y2="225.6" stroke="#b0b0b0" stroke-opacity="0.36" stroke-width="0.8" stroke-dasharray="0.8 0.6"/>
<line x1="687.63" x2="687.63" y1="225.6" y2="227.4" stroke="#222" stroke-width="0.8"/>
<text x="687.63" y="237.3" font-size="10.5" text-anchor="middle" fill="#000" stroke="#000" stroke-width="0.1">2</text>
<line x1="718.91" x2="718.91" y1="117.6" y2="225.6" stroke="#b0b0b0" stroke-opacity="0.36" stroke-width="0.8" stroke-dasharray="0.8 0.6"/>
<line x1="718.91" x2="718.91" y1="225.6" y2="227.4" stroke="#222" stroke-width="0.8"/>
<text x="718.91" y="237.3" font-size="10.5" text-anchor="middle" fill="#000" stroke="#000" stroke-width="0.1">3</text>
<line x1="750.19" x2="750.19" y1="117.6" y2="225.6" stroke="#b0b0b0" stroke-opacity="0.36" stroke-width="0.8" stroke-dasharray="0.8 0.6"/>
<line x1="750.19" x2="750.19" y1="225.6" y2="227.4" stroke="#222" stroke-width="0.8"/>
<text x="750.19" y="237.3" font-size="10.5" text-anchor="middle" fill="#000" stroke="#000" stroke-width="0.1">4</text>
<line x1="781.47" x2="781.47" y1="117.6" y2="225.6" stroke="#b0b0b0" stroke-opacity="0.36" stroke-width="0.8" stroke-dasharray="0.8 0.6"/>
<line x1="781.47" x2="781.47" y1="225.6" y2="227.4" stroke="#222" stroke-width="0.8"/>
<text x="781.47" y="237.3" font-size="10.5" text-anchor="middle" fill="#000" stroke="#000" stroke-width="0.1">5</text>
<line x1="812.75" x2="812.75" y1="117.6" y2="225.6" stroke="#b0b0b0" stroke-opacity="0.36" stroke-width="0.8" stroke-dasharray="0.8 0.6"/>
<line x1="812.75" x2="812.75" y1="225.6" y2="227.4" stroke="#222" stroke-width="0.8"/>
<text x="812.75" y="237.3" font-size="10.5" text-anchor="middle" fill="#000" stroke="#000" stroke-width="0.1">6</text>
<line x1="844.03" x2="844.03" y1="117.6" y2="225.6" stroke="#b0b0b0" stroke-opacity="0.36" stroke-width="0.8" stroke-dasharray="0.8 0.6"/>
<line x1="844.03" x2="844.03" y1="225.6" y2="227.4" stroke="#222" stroke-width="0.8"/>
<text x="844.03" y="237.3" font-size="10.5" text-anchor="middle" fill="#000" stroke="#000" stroke-width="0.1">7</text>
<line x1="875.31" x2="875.31" y1="117.6" y2="225.6" stroke="#b0b0b0" stroke-opacity="0.36" stroke-width="0.8" stroke-dasharray="0.8 0.6"/>
<line x1="875.31" x2="875.31" y1="225.6" y2="227.4" stroke="#222" stroke-width="0.8"/>
<text x="875.31" y="237.3" font-size="10.5" text-anchor="middle" fill="#000" stroke="#000" stroke-width="0.1">8</text>
<path d="M640.5 112.3V4.5H891.0V225.6H640.5V117.6" fill="none" stroke="#6a6a6a" stroke-width="1"/>
<path d="M640.5 112.3V4.5M640.5 117.6V225.6" fill="none" stroke="#444" stroke-width="1"/>
<line x1="638.5" x2="640.5" y1="12.86" y2="12.86" stroke="#222" stroke-width="0.8"/>
<text x="636.9" y="16.86" font-size="10.5" text-anchor="end" fill="#000" stroke="#000" stroke-width="0.1">6.6</text>
<line x1="638.5" x2="640.5" y1="34.40" y2="34.40" stroke="#222" stroke-width="0.8"/>
<text x="636.9" y="38.4" font-size="10.5" text-anchor="end" fill="#000" stroke="#000" stroke-width="0.1">6.0</text>
<line x1="638.5" x2="640.5" y1="55.94" y2="55.94" stroke="#222" stroke-width="0.8"/>
<text x="636.9" y="59.94" font-size="10.5" text-anchor="end" fill="#000" stroke="#000" stroke-width="0.1">5.4</text>
<line x1="638.5" x2="640.5" y1="77.48" y2="77.48" stroke="#222" stroke-width="0.8"/>
<text x="636.9" y="81.48" font-size="10.5" text-anchor="end" fill="#000" stroke="#000" stroke-width="0.1">4.8</text>
<line x1="638.5" x2="640.5" y1="99.02" y2="99.02" stroke="#222" stroke-width="0.8"/>
<text x="636.9" y="103.02" font-size="10.5" text-anchor="end" fill="#000" stroke="#000" stroke-width="0.1">4.2</text>
<line x1="638.5" x2="640.5" y1="225.60" y2="225.60" stroke="#222" stroke-width="0.8"/>
<text x="636.9" y="229.6" font-size="10.5" text-anchor="end" fill="#000" stroke="#000" stroke-width="0.1">1.0</text>
<line x1="638.5" x2="640.5" y1="199.87" y2="199.87" stroke="#222" stroke-width="0.8"/>
<text x="636.9" y="203.87" font-size="10.5" text-anchor="end" fill="#000" stroke="#000" stroke-width="0.1">1.1</text>
<line x1="638.5" x2="640.5" y1="174.15" y2="174.15" stroke="#222" stroke-width="0.8"/>
<text x="636.9" y="178.15" font-size="10.5" text-anchor="end" fill="#000" stroke="#000" stroke-width="0.1">1.2</text>
<line x1="638.5" x2="640.5" y1="148.42" y2="148.42" stroke="#222" stroke-width="0.8"/>
<text x="636.9" y="152.42" font-size="10.5" text-anchor="end" fill="#000" stroke="#000" stroke-width="0.1">1.3</text>
<line x1="638.5" x2="640.5" y1="122.70" y2="122.70" stroke="#222" stroke-width="0.8"/>
<text x="636.9" y="126.7" font-size="10.5" text-anchor="end" fill="#000" stroke="#000" stroke-width="0.1">1.4</text>
<line x1="636.5" x2="644.5" y1="116.0" y2="108.5" stroke="#222" stroke-width="0.8"/>
<line x1="636.5" x2="644.5" y1="121.25" y2="113.75" stroke="#222" stroke-width="0.8"/>
<line x1="887.0" x2="895.0" y1="116.0" y2="108.5" stroke="#222" stroke-width="0.8"/>
<line x1="887.0" x2="895.0" y1="121.25" y2="113.75" stroke="#222" stroke-width="0.8"/>
<text x="771.2" y="265.4" font-size="15" text-anchor="middle" fill="#000" >Number of stages</text>
<text x="771.8" y="283.8" font-size="15" text-anchor="middle" fill="#000" >(c)</text>
</svg>
</body></html>
